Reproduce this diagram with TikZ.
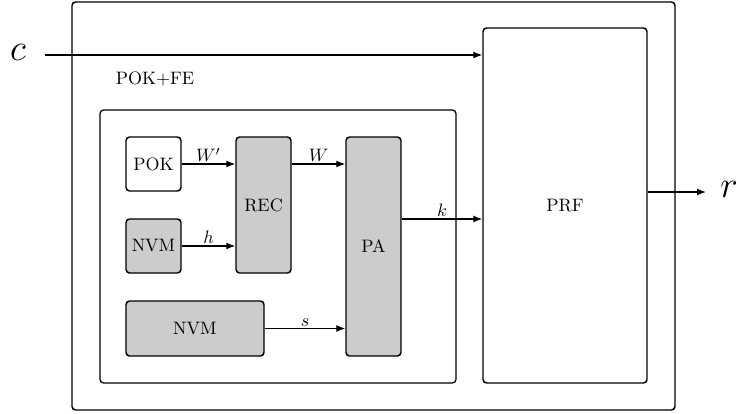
\documentclass[tikz,border=0pt]{standalone}
\usetikzlibrary{arrows.meta}
\begin{document}
\begin{tikzpicture}[x=0.5556pt,y=-0.5556pt,
  box/.style={draw,line width=0.83pt,rounded corners=2pt,inner sep=0pt},
  graybox/.style={box,fill=black!20},
  arr/.style={line width=0.67pt,-{Latex[length=5pt,width=3.9pt]}},
  lab/.style={above,inner sep=0.8pt}]
\useasboundingbox (0,0) rectangle (736,414);
\node[box,minimum width=603*0.5556pt,minimum height=408*0.5556pt] (outer) at (373.5,206) {};
\node[box,minimum width=164*0.5556pt,minimum height=355*0.5556pt] (prf) at (565,205.5) {PRF};
\node[box,line width=0.72pt,minimum width=356*0.5556pt,minimum height=273*0.5556pt] (inner) at (278,246.5) {};
\node (fe) at (155,79) {POK+FE};
\node[box,minimum width=55*0.5556pt,minimum height=54*0.5556pt] (pok) at (153.5,164) {POK};
\node[graybox,minimum width=55*0.5556pt,minimum height=54*0.5556pt] (nvm1) at (153.5,246) {NVM};
\node[graybox,minimum width=55*0.5556pt,minimum height=136*0.5556pt] (rec) at (263.5,205) {REC};
\node[graybox,minimum width=55*0.5556pt,minimum height=219*0.5556pt] (pa) at (373.5,246.5) {PA};
\node[graybox,minimum width=138*0.5556pt,minimum height=55*0.5556pt] (nvm2) at (195,328.5) {NVM};
\coordinate (ky) at (0,219);
\coordinate (cin) at (45,55);
\coordinate (rout) at (706,192);
\node[font=\huge] (c) at (18,52) {$c$};
\node[font=\huge,anchor=west] (r) at (714,189) {$r$};
\draw[arr] (pok.east) -- node[lab]{$W'$} (pok.east -| rec.west);
\draw[arr] (nvm1.east) -- node[lab]{$h$} (nvm1.east -| rec.west);
\draw[arr] (rec.east |- pok) -- node[lab]{$W$} (pa.west |- pok);
\draw[arr] (pa.east |- ky) -- node[lab]{$k$} (prf.west |- ky);
\draw[arr] (nvm2.east) -- node[lab]{$s$} (nvm2.east -| pa.west);
\draw[arr] (cin) -- (cin -| prf.west);
\draw[arr] (prf.east |- rout) -- (rout);
\end{tikzpicture}
\end{document}
